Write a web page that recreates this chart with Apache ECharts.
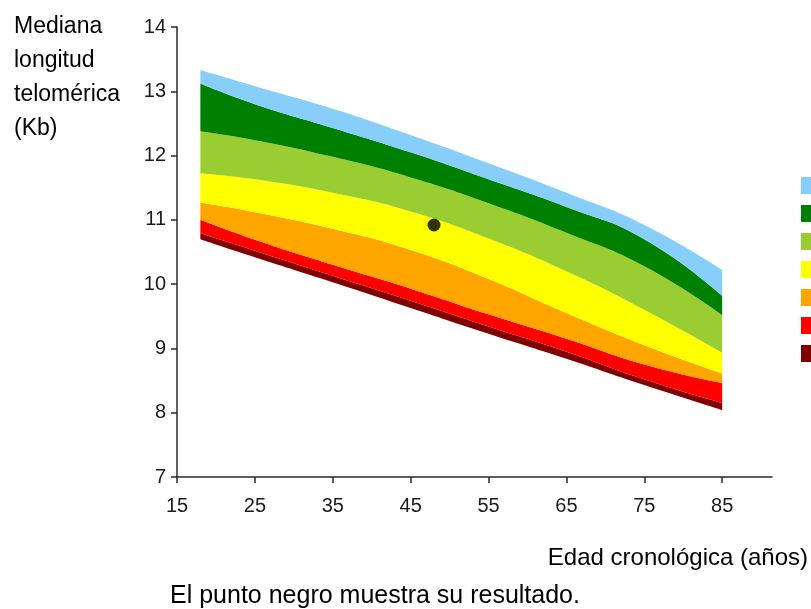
<!DOCTYPE html>
<html>
<head>
<meta charset="utf-8">
<script src="https://cdn.jsdelivr.net/npm/echarts@6/dist/echarts.min.js"></script>
<style>html,body{margin:0;padding:0;background:#fff;}#c{width:811px;height:609px;}</style>
</head>
<body>
<div id="c"></div>
<script>
// Ages (x) at which band boundaries were read
const ages = [18, 25, 35, 45, 55, 65, 75, 85];
// Boundary values (Kb), bottom to top
const bottomEdge     = [10.70, 10.42, 10.03, 9.63, 9.23, 8.84, 8.43, 8.04];
const darkRedTop     = [10.79, 10.52, 10.13, 9.74, 9.34, 8.95, 8.52, 8.15];
const redTop         = [11.00, 10.69, 10.30, 9.93, 9.53, 9.15, 8.75, 8.46];
const orangeTop      = [11.27, 11.12, 10.86, 10.53, 10.08, 9.55, 9.05, 8.61];
const yellowTop      = [11.72, 11.63, 11.42, 11.13, 10.71, 10.20, 9.60, 8.93];
const lightGreenTop  = [12.38, 12.24, 11.98, 11.66, 11.26, 10.80, 10.28, 9.52];
const darkGreenTop   = [13.12, 12.80, 12.43, 12.05, 11.63, 11.20, 10.70, 9.82];
const lightBlueTop   = [13.33, 13.08, 12.73, 12.32, 11.88, 11.42, 10.92, 10.22];
// Patient result
const resultPoint = [48, 10.92];
// Tick labels
const xTicks = [15, 25, 35, 45, 55, 65, 75, 85];
const yTicks = [7, 8, 9, 10, 11, 12, 13, 14];
// Band names and colours (top to bottom)
const bandNames  = ['Banda 1', 'Banda 2', 'Banda 3', 'Banda 4', 'Banda 5', 'Banda 6', 'Banda 7'];
const bandColors = ['#87cefa', '#008000', '#9acd32', '#ffff00', '#ffa500', '#ff0000', '#800000'];

const tops   = [lightBlueTop, darkGreenTop, lightGreenTop, yellowTop, orangeTop, redTop, darkRedTop];
const lowers = [darkGreenTop, lightGreenTop, yellowTop, orangeTop, redTop, darkRedTop, bottomEdge];

// Data rows are [value, age] so the value (y) dimension is the stacked one.
const series = [{
  name: 'base', type: 'line', stack: 'bands', smooth: true, showSymbol: false, silent: true,
  encode: {x: 1, y: 0},
  lineStyle: {width: 0, opacity: 0},
  data: ages.map((a, i) => [bottomEdge[i], a])
}];
for (let k = bandNames.length - 1; k >= 0; k--) {
  series.push({
    name: bandNames[k], type: 'line', stack: 'bands', smooth: true, showSymbol: false,
    encode: {x: 1, y: 0},
    lineStyle: {width: 0, opacity: 0},
    itemStyle: {color: bandColors[k]},
    areaStyle: {color: bandColors[k], opacity: 1},
    data: ages.map((a, i) => [+(tops[k][i] - lowers[k][i]).toFixed(3), a])
  });
}
series.push({
  name: 'resultado', type: 'scatter', symbolSize: 13, z: 10,
  itemStyle: {color: '#000'}, data: [resultPoint]
});

const tickFont = {fontFamily: 'Liberation Sans, Arial, sans-serif', fontSize: 20, color: '#1a1a1a'};
const chart = echarts.init(document.getElementById('c'));
chart.setOption({
  animation: false,
  backgroundColor: '#fff',
  grid: {left: 177, right: 39, top: 27, bottom: 132, containLabel: false},
  xAxis: {
    type: 'value', min: 15, max: 91.4, interval: 10, z: 5,
    splitLine: {show: false},
    axisLine: {show: true, onZero: false, lineStyle: {color: '#2a2a2a', width: 1.5}},
    axisTick: {show: true, length: 6, customValues: xTicks, lineStyle: {color: '#2a2a2a', width: 1.5}},
    axisLabel: Object.assign({margin: 19, customValues: xTicks}, tickFont)
  },
  yAxis: {
    type: 'value', min: 7, max: 14, interval: 1, z: 5,
    splitLine: {show: false},
    axisLine: {show: true, lineStyle: {color: '#2a2a2a', width: 1.5}},
    axisTick: {show: true, length: 6, customValues: yTicks, lineStyle: {color: '#2a2a2a', width: 1.5}},
    axisLabel: Object.assign({margin: 11, customValues: yTicks}, tickFont)
  },
  legend: {
    orient: 'vertical', left: 801, top: 177, padding: 0, itemWidth: 16, itemHeight: 17, itemGap: 11,
    icon: 'rect', data: bandNames, formatter: () => '', selectedMode: false
  },
  graphic: [
    {type: 'text', left: 14, top: 10, style: {text: 'Mediana\nlongitud\ntelomérica\n(Kb)', lineHeight: 34, font: '23px "Liberation Sans", Arial, sans-serif', fill: '#000'}},
    {type: 'text', right: 3, top: 546, style: {text: 'Edad cronológica (años)', font: '24px "Liberation Sans", Arial, sans-serif', fill: '#000'}},
    {type: 'text', left: 170, top: 584, style: {text: 'El punto negro muestra su resultado.', font: '25px "Liberation Sans", Arial, sans-serif', fill: '#000'}}
  ],
  series: series
});
</script>
</body>
</html>
